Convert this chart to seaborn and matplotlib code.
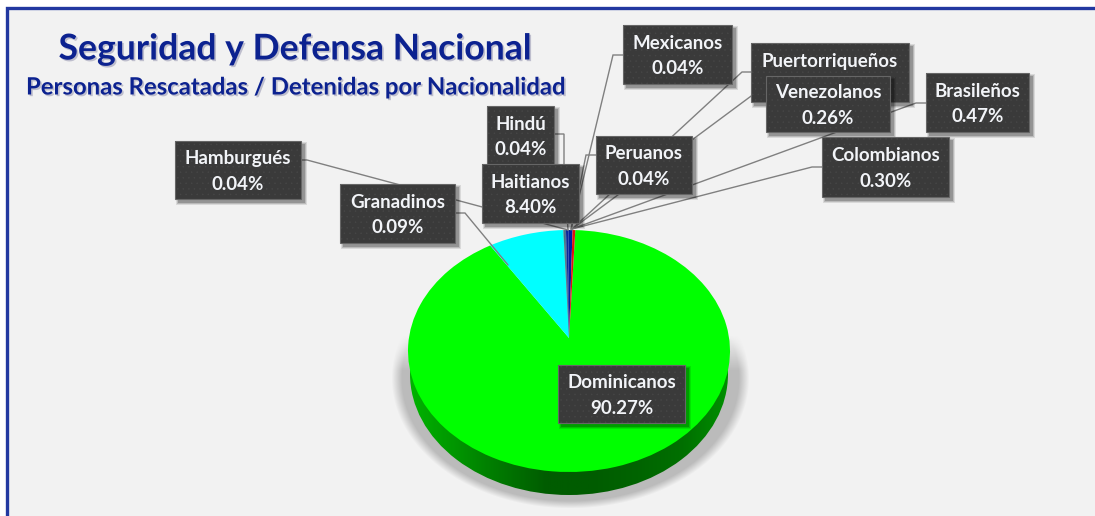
import numpy as np
import matplotlib
matplotlib.use("Agg")
import matplotlib.pyplot as plt
import matplotlib.patheffects as pe
from matplotlib.colors import LinearSegmentedColormap
from matplotlib.patches import Ellipse, Rectangle
from matplotlib.transforms import Transform
import seaborn as sns

W, H = 1095, 516

# --- data -------------------------------------------------------------
title = "Seguridad y Defensa Nacional"
subtitle = "Personas Rescatadas / Detenidas por Nacionalidad"
nationalities = ["Dominicanos", "Haitianos", "Hamburgués", "Granadinos", "Hindú", "Mexicanos",
                 "Peruanos", "Puertorriqueños", "Venezolanos", "Brasileños", "Colombianos"]
percentages = [90.27, 8.40, 0.04, 0.09, 0.04, 0.04, 0.04, 0.04, 0.26, 0.47, 0.30]

# --- styles and layout --------------------------------------------------
slice_colors = ["#00ff00", "#00ffff", "#405060", "#206070", "#104060", "#204060",
                "#004080", "#003080", "#0a2a9a", "#0020a0", "#e01010"]
boxes = {  # left, top, right, bottom in pixels
    "Hamburgués": (175, 141, 301, 199),
    "Granadinos": (340, 184, 455, 243),
    "Hindú": (487, 106, 554, 165),
    "Mexicanos": (623, 25, 732, 84),
    "Peruanos": (596, 136, 692, 194),
    "Puertorriqueños": (751, 43, 909, 102),
    "Venezolanos": (766, 76, 890, 132),
    "Brasileños": (926, 73, 1029, 132),
    "Colombianos": (822, 137, 949, 197),
    "Dominicanos": (558, 365, 685, 423),
    "Haitianos": (482, 164, 579, 223),
}
leaders = {
    "Hamburgués": [(301, 160), (307, 160), (568, 230)],
    "Granadinos": [(455, 213), (465, 213), (508, 265)],
    "Hindú": [(554, 134), (564, 134), (564, 165), (568, 230)],
    "Mexicanos": [(623, 55), (613, 55), (571, 230)],
    "Peruanos": [(596, 155), (586, 155), (571, 229)],
    "Puertorriqueños": [(751, 72), (742, 72), (572, 229)],
    "Venezolanos": [(766, 85), (572, 229)],
    "Brasileños": [(926, 103), (916, 103), (572, 229)],
    "Colombianos": [(822, 167), (812, 167), (572, 229)],
}

sns.set_theme(style="white", palette=sns.color_palette(slice_colors))
plt.rcParams["font.family"] = ["Lato", "DejaVu Sans"]
plt.rcParams["hatch.linewidth"] = 0.3

fig = plt.figure(figsize=(W / 100, H / 100), dpi=100, facecolor="white")


def pixel_axes(zorder):
    ax = fig.add_axes([0, 0, 1, 1], zorder=zorder)
    ax.set_xlim(0, W)
    ax.set_ylim(H, 0)
    ax.axis("off")
    ax.patch.set_alpha(0)
    return ax


class Tilt(Transform):
    """Projective tilt of the unit disc: the pie's centre sits above the middle of its ellipse."""
    input_dims = output_dims = 2

    def __init__(self, c):
        super().__init__()
        self.c = c

    def transform_non_affine(self, values):
        u, v = np.asarray(values).T
        d = 1 + self.c * v
        return np.column_stack((u * np.sqrt(1 - self.c ** 2) / d, (v + self.c) / d))


# --- backdrop ----------------------------------------------------------
back = pixel_axes(1)
back.add_patch(Rectangle((6.5, 7.5), W, H, fc="#f2f2f2", ec="#2238a0", lw=2.4))

cx, cy, rx, ry, depth = 569, 351, 161, 121, 23
yy, xx = np.mgrid[240:516, 370:780]
dist = np.sqrt(((xx - 570) / 172) ** 2 + ((yy - 378) / 125) ** 2)
shadow = np.zeros(dist.shape + (4,))
shadow[..., :3] = 0.7
shadow[..., 3] = np.clip((1.04 - dist) / 0.06, 0, 1) * np.clip((yy - 335) / 35, 0, 1) * 0.85
back.imshow(shadow, extent=(370, 780, 516, 240), aspect="auto", zorder=2)

side_cmap = LinearSegmentedColormap.from_list(
    "side", ["#00b400", "#009600", "#007800", "#005c00", "#005c00", "#006400", "#007000", "#009000"])
side = back.imshow(np.linspace(0, 1, 330)[None, :], extent=(cx - rx, cx + rx, cy + ry + depth, cy),
                   aspect="auto", cmap=side_cmap, zorder=3)
side_clip = Ellipse((cx, cy + depth), 2 * rx - 4, 2 * ry, transform=back.transData)
side.set_clip_path(side_clip)
back.set_xlim(0, W)
back.set_ylim(H, 0)

# --- pie ---------------------------------------------------------------
pie_ax = fig.add_axes([(cx - rx) / W, 1 - (cy + ry) / H, 2 * rx / W, 2 * ry / H], zorder=2)
wedges, _ = pie_ax.pie(percentages, colors=slice_colors, startangle=87.5, counterclock=False, radius=1,
                       wedgeprops={"linewidth": 0})
pie_ax.set_aspect("auto")
pie_ax.set_xlim(-1, 1)
pie_ax.set_ylim(-1, 1)
tilt = Tilt((cy - 338) / ry)
for wedge in wedges:
    wedge.set_transform(tilt + pie_ax.transData)

# --- annotations -------------------------------------------------------
top = pixel_axes(3)
for name, pts in leaders.items():
    xs, ys = zip(*pts)
    top.plot(xs, ys, color="#808080", lw=1.0, zorder=2, solid_joinstyle="miter")

shadow_fx = [pe.SimplePatchShadow(offset=(1.2, -1.2), shadow_rgbFace="#8080a0", alpha=0.45), pe.Normal()]
top.text(295, 49, title, color="#0c2290", fontsize=25.6, fontweight="bold", ha="center", va="center",
         path_effects=shadow_fx)
top.text(296, 87, subtitle, color="#0c2290", fontsize=17.2, fontweight="bold", ha="center", va="center",
         path_effects=shadow_fx)

order = 3
for name in boxes:
    l, t, r, b = boxes[name]
    value = percentages[nationalities.index(name)]
    for grow, a in ((2.5, 0.10), (1.5, 0.14), (0.5, 0.2)):
        top.add_patch(Rectangle((l + 3 - grow, t + 3 - grow), r - l + 2 * grow, b - t + 2 * grow,
                                fc="black", ec="none", alpha=a, zorder=order))
    top.add_patch(Rectangle((l, t), r - l, b - t, fc="#3a3a3a", ec="#474747", hatch="...", lw=0, zorder=order + 0.1))
    top.add_patch(Rectangle((l, t), r - l, b - t, fc="none", ec="#666666", lw=0.8, zorder=order + 0.2))
    top.text((l + r) / 2, (t + b) / 2 + 1.5, f"{name}\n{value:.2f}%", color="#f2f4f8", fontsize=13.5, fontweight="bold",
             ha="center", va="center", linespacing=1.62, zorder=order + 0.3)
    order += 1

fig.savefig("out.png", dpi=100, facecolor="white")
